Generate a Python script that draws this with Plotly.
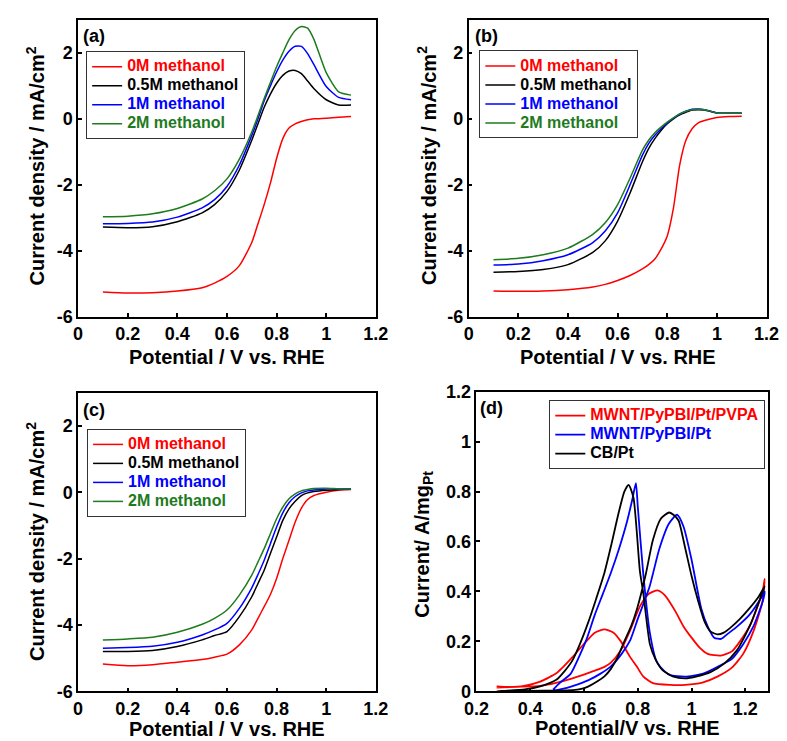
import plotly.graph_objects as go

# Potential grid for panels (a)-(c), V vs. RHE
potential = [0.1, 0.2, 0.3, 0.4, 0.5, 0.55, 0.6, 0.65, 0.7, 0.725, 0.75, 0.775,
             0.8, 0.825, 0.85, 0.875, 0.9, 0.925, 0.95, 1.0, 1.05, 1.1]

# (a) current density, mA/cm2
a_0M = [-5.25, -5.28, -5.27, -5.22, -5.12, -4.98, -4.78, -4.45, -3.75, -3.18, -2.6, -1.95,
        -1.2, -0.6, -0.28, -0.15, -0.08, -0.03, 0.0, 0.02, 0.05, 0.07]
a_05M = [-3.28, -3.3, -3.27, -3.12, -2.85, -2.6, -2.2, -1.55, -0.65, -0.15, 0.35, 0.75,
         1.08, 1.32, 1.45, 1.47, 1.37, 1.15, 0.92, 0.58, 0.42, 0.42]
a_1M = [-3.18, -3.17, -3.13, -2.98, -2.7, -2.45, -2.05, -1.4, -0.5, 0.0, 0.55, 1.0,
        1.42, 1.78, 2.05, 2.2, 2.2, 1.98, 1.65, 0.98, 0.65, 0.58]
a_2M = [-2.97, -2.95, -2.88, -2.72, -2.43, -2.18, -1.82, -1.22, -0.4, 0.1, 0.62, 1.1,
        1.58, 2.0, 2.4, 2.68, 2.8, 2.75, 2.42, 1.4, 0.82, 0.72]

# (b)
b_0M = [-5.22, -5.23, -5.22, -5.18, -5.1, -5.02, -4.9, -4.75, -4.55, -4.42, -4.25, -3.95,
        -3.55, -2.7, -1.4, -0.65, -0.3, -0.12, -0.05, 0.04, 0.07, 0.08]
b_05M = [-4.65, -4.63, -4.57, -4.42, -4.05, -3.7, -3.1, -2.25, -1.3, -0.9, -0.6, -0.35,
         -0.15, 0.0, 0.12, 0.2, 0.27, 0.28, 0.27, 0.18, 0.17, 0.17]
b_1M = [-4.43, -4.4, -4.3, -4.12, -3.75, -3.4, -2.85, -2.0, -1.1, -0.75, -0.5, -0.3,
        -0.12, 0.02, 0.14, 0.23, 0.29, 0.3, 0.28, 0.18, 0.17, 0.17]
b_2M = [-4.27, -4.23, -4.12, -3.92, -3.5, -3.15, -2.6, -1.8, -0.95, -0.65, -0.42, -0.25,
        -0.1, 0.03, 0.15, 0.23, 0.28, 0.29, 0.28, 0.18, 0.17, 0.17]

# (c)
c_0M = [-5.18, -5.23, -5.2, -5.12, -5.04, -4.97, -4.88, -4.6, -4.15, -3.8, -3.45, -3.08,
        -2.6, -2.0, -1.45, -0.9, -0.48, -0.22, -0.1, 0.0, 0.06, 0.08]
c_05M = [-4.8, -4.8, -4.77, -4.65, -4.45, -4.32, -4.2, -3.75, -3.15, -2.75, -2.35, -1.85,
         -1.35, -0.85, -0.5, -0.27, -0.1, -0.02, 0.02, 0.06, 0.08, 0.1]
c_1M = [-4.7, -4.68, -4.64, -4.52, -4.3, -4.15, -3.95, -3.5, -2.88, -2.48, -2.05, -1.55,
        -1.05, -0.62, -0.32, -0.13, -0.02, 0.04, 0.07, 0.1, 0.1, 0.1]
c_2M = [-4.45, -4.42, -4.37, -4.22, -3.98, -3.8, -3.55, -3.1, -2.5, -2.1, -1.7, -1.25,
        -0.8, -0.45, -0.2, -0.05, 0.04, 0.08, 0.11, 0.12, 0.1, 0.1]

# (d) cyclic voltammograms (forward then backward scan), A/mg Pt
pvpa_x = [0.275, 0.35, 0.437, 0.5, 0.557, 0.62, 0.676, 0.70, 0.737, 0.77, 0.808, 0.84, 0.874,
          0.90, 0.94, 0.97, 1.0, 1.03, 1.06, 1.108, 1.15, 1.18, 1.22, 1.264, 1.272,
          1.264, 1.23, 1.192, 1.15, 1.096, 1.04, 0.976, 0.92, 0.856, 0.82, 0.797, 0.77,
          0.737, 0.71, 0.676, 0.64, 0.60, 0.557, 0.52, 0.497, 0.437, 0.377, 0.32, 0.275]
pvpa_y = [0.015, 0.018, 0.022, 0.035, 0.052, 0.075, 0.098, 0.115, 0.165, 0.24, 0.34, 0.39, 0.404,
          0.385, 0.32, 0.26, 0.215, 0.175, 0.15, 0.143, 0.16, 0.2, 0.27, 0.40, 0.45,
          0.36, 0.24, 0.15, 0.095, 0.059, 0.035, 0.026, 0.026, 0.033, 0.06, 0.098, 0.14,
          0.2, 0.235, 0.248, 0.235, 0.19, 0.137, 0.095, 0.072, 0.039, 0.022, 0.018, 0.02]

pypbi_x = [0.485, 0.52, 0.56, 0.617, 0.66, 0.70, 0.74, 0.772, 0.80, 0.844, 0.88, 0.915, 0.946,
           0.97, 1.0, 1.036, 1.06, 1.084, 1.11, 1.132, 1.17, 1.215, 1.264, 1.272,
           1.264, 1.23, 1.192, 1.15, 1.096, 1.04, 0.976, 0.92, 0.9, 0.87, 0.844, 0.82, 0.80,
           0.793, 0.78, 0.76, 0.73, 0.70, 0.67, 0.64, 0.61, 0.581, 0.55, 0.509, 0.485]
pypbi_y = [0.003, 0.01, 0.022, 0.045, 0.07, 0.1, 0.15, 0.205, 0.29, 0.42, 0.57, 0.67, 0.707,
           0.66, 0.527, 0.332, 0.26, 0.215, 0.21, 0.228, 0.26, 0.306, 0.384, 0.40,
           0.358, 0.26, 0.189, 0.13, 0.098, 0.07, 0.059, 0.065, 0.08, 0.12, 0.24, 0.475, 0.74,
           0.834, 0.77, 0.68, 0.57, 0.475, 0.39, 0.306, 0.21, 0.137, 0.07, 0.033, 0.007]

cb_x = [0.275, 0.4, 0.5, 0.557, 0.59, 0.617, 0.65, 0.676, 0.70, 0.725, 0.75, 0.775, 0.797,
        0.83, 0.856, 0.885, 0.916, 0.935, 0.952, 0.975, 1.0, 1.025, 1.048, 1.07, 1.096,
        1.12, 1.144, 1.18, 1.215, 1.25, 1.272,
        1.264, 1.22, 1.168, 1.12, 1.072, 1.02, 0.976, 0.93, 0.892, 0.865, 0.845, 0.82,
        0.808, 0.784, 0.766, 0.75, 0.73, 0.70, 0.676, 0.645, 0.617, 0.585, 0.557, 0.527,
        0.497, 0.437, 0.38, 0.30, 0.275]
cb_y = [0.0, 0.002, 0.003, 0.005, 0.01, 0.02, 0.04, 0.06, 0.09, 0.137, 0.20, 0.26, 0.33,
        0.47, 0.605, 0.69, 0.716, 0.705, 0.683, 0.58, 0.462, 0.36, 0.28, 0.24, 0.228,
        0.235, 0.254, 0.29, 0.332, 0.38, 0.42,
        0.397, 0.27, 0.163, 0.11, 0.078, 0.06, 0.052, 0.06, 0.085, 0.13, 0.189, 0.397,
        0.48, 0.775, 0.827, 0.80, 0.72, 0.58, 0.475, 0.37, 0.28, 0.19, 0.124, 0.08,
        0.046, 0.02, 0.008, 0.002, 0.0]

methanol_names = ["0M methanol", "0.5M methanol", "1M methanol", "2M methanol"]
methanol_colors = ["#ff0000", "#000000", "#0000ff", "#1e7b1e"]
catalyst_names = ["MWNT/PyPBI/Pt/PVPA", "MWNT/PyPBI/Pt", "CB/Pt"]
catalyst_colors = ["#ff0000", "#0000ff", "#000000"]

jd_ticks = [-6, -4, -2, 0, 2]
jd_ticktext = ["-6", "-4", "-2", "0", "2"]

FONT = "Liberation Sans, Arial, sans-serif"


def legend_label(name, color):
    # coloured legend text, a bit larger than the legend row height would suggest
    return f"<span style='color:{color};font-size:16px'>{name}</span>"


fig = go.Figure()

panels = [
    ("x", "y", "legend", [a_0M, a_05M, a_1M, a_2M]),
    ("x2", "y2", "legend2", [b_0M, b_05M, b_1M, b_2M]),
    ("x3", "y3", "legend3", [c_0M, c_05M, c_1M, c_2M]),
]
for xa, ya, leg, series in panels:
    for name, color, ys in zip(methanol_names, methanol_colors, series):
        fig.add_trace(go.Scatter(
            x=potential, y=ys, mode="lines", xaxis=xa, yaxis=ya, legend=leg,
            name=legend_label(name, color),
            line=dict(color=color, width=1.5, shape="spline", smoothing=0.6),
        ))

for name, color, xs, ys in zip(catalyst_names, catalyst_colors,
                               [pvpa_x, pypbi_x, cb_x], [pvpa_y, pypbi_y, cb_y]):
    fig.add_trace(go.Scatter(
        x=xs, y=ys, mode="lines", xaxis="x4", yaxis="y4", legend="legend4",
        name=legend_label(name, color),
        line=dict(color=color, width=1.8, shape="spline", smoothing=0.6),
    ))

axis_common = dict(
    showline=True, mirror=True, linecolor="black", linewidth=1.5,
    ticks="inside", ticklen=4, tickwidth=1.5, tickcolor="black",
    showgrid=False, zeroline=False,
    tickfont=dict(family=FONT, size=18, color="black", weight="bold"),
)

dom_ax_left = [0.0750, 0.4663]
dom_ax_right = [0.5883, 0.9797]
dom_top = [0.5857, 0.9973]
dom_bottom = [0.0661, 0.4804]

fig.update_layout(
    width=787, height=741,
    margin=dict(l=0, r=0, t=0, b=0),
    paper_bgcolor="white", plot_bgcolor="white",
    font=dict(family=FONT, color="black"),
    xaxis=dict(domain=dom_ax_left, anchor="y", range=[0, 1.2], dtick=0.2, **axis_common),
    yaxis=dict(domain=dom_top, anchor="x", range=[-6, 3], tickvals=jd_ticks,
               ticktext=jd_ticktext, **axis_common),
    xaxis2=dict(domain=dom_ax_right, anchor="y2", range=[0, 1.2], dtick=0.2, **axis_common),
    yaxis2=dict(domain=dom_top, anchor="x2", range=[-6, 3], tickvals=jd_ticks,
                ticktext=jd_ticktext, **axis_common),
    xaxis3=dict(domain=dom_ax_left, anchor="y3", range=[0, 1.2], dtick=0.2, **axis_common),
    yaxis3=dict(domain=dom_bottom, anchor="x3", range=[-6, 3], tickvals=jd_ticks,
                ticktext=jd_ticktext, **axis_common),
    xaxis4=dict(domain=[0.5985, 0.9822], anchor="y4", range=[0.2, 1.286], dtick=0.2,
                **axis_common),
    yaxis4=dict(domain=[0.0661, 0.4818], anchor="x4", range=[0, 1.2], dtick=0.2,
                **axis_common),
)

leg_common = dict(
    xanchor="left", yanchor="top", bgcolor="rgba(255,255,255,0)",
    bordercolor="#333333", borderwidth=1,
    font=dict(family=FONT, size=12, color="black", weight="bold"),
    itemwidth=30,
)
fig.update_layout(
    legend=dict(x=0.0856, y=0.954, **leg_common),
    legend2=dict(x=0.6023, y=0.955, **leg_common),
    legend3=dict(x=0.0868, y=0.4301, **leg_common),
    legend4=dict(x=0.6942, y=0.470, **leg_common),
)

ann_font = dict(family=FONT, size=20, color="black", weight="bold")
lab_font = dict(family=FONT, size=18, color="black", weight="bold")
annotations = [
    # panel labels
    dict(text="(a)", x=76 / 787, y=1 - 18 / 741, font=lab_font),
    dict(text="(b)", x=481 / 787, y=1 - 18 / 741, font=lab_font),
    dict(text="(c)", x=75 / 787, y=1 - 403 / 741, font=lab_font),
    dict(text="(d)", x=487 / 787, y=1 - 401 / 741, font=lab_font),
    # x titles
    dict(text="Potential / V vs. RHE", x=213 / 787, y=1 - 348 / 741, font=ann_font),
    dict(text="Potential / V vs. RHE", x=617 / 787, y=1 - 348 / 741, font=ann_font),
    dict(text="Potential / V vs. RHE", x=213 / 787, y=1 - 731 / 741, font=ann_font),
    dict(text="Potential/V vs. RHE", x=627 / 787, y=1 - 730 / 741, font=ann_font),
    # y titles
    dict(text="Current density / mA/cm<sup>2</sup>", x=15 / 787, y=1 - 152 / 741,
         textangle=-90, font=ann_font),
    dict(text="Current density / mA/cm<sup>2</sup>", x=420 / 787, y=1 - 152 / 741,
         textangle=-90, font=ann_font),
    dict(text="Current density / mA/cm<sup>2</sup>", x=15 / 787, y=1 - 538 / 741,
         textangle=-90, font=ann_font),
    dict(text="Current/ A/mg<sub>Pt</sub>", x=416 / 787, y=1 - 541 / 741,
         textangle=-90, font=ann_font),
]
for a in annotations:
    a.update(xref="paper", yref="paper", showarrow=False, xanchor="center", yanchor="middle")
fig.update_layout(annotations=annotations)

fig.write_html("out.html")
